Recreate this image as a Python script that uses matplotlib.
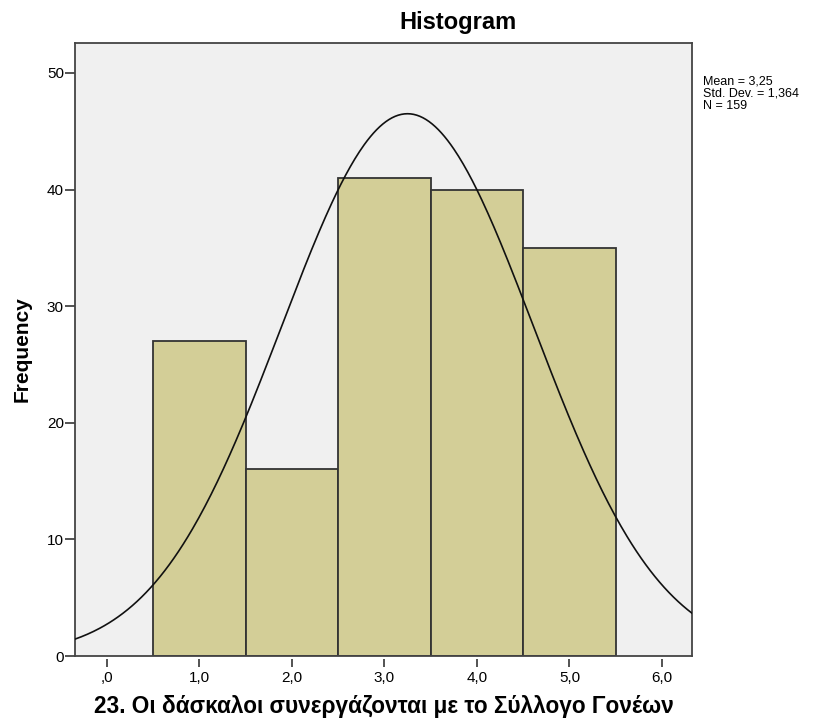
import numpy as np
import matplotlib
matplotlib.use("Agg")
import matplotlib.pyplot as plt

plt.rcParams['font.family'] = ['Liberation Sans', 'DejaVu Sans']

bin_centers = [1.0, 2.0, 3.0, 4.0, 5.0]
frequencies = [27, 16, 41, 40, 35]
mean_val = 3.25
std_val = 1.364
n_val = 159
xtick_vals = [0, 1, 2, 3, 4, 5, 6]
xtick_labels = [",0", "1,0", "2,0", "3,0", "4,0", "5,0", "6,0"]
ytick_vals = [0, 10, 20, 30, 40, 50]
title_text = "Histogram"
xlabel_text = "23. Οι δάσκαλοι συνεργάζονται με το Σύλλογο Γονέων"
ylabel_text = "Frequency"
stats_text = "Mean = 3,25\nStd. Dev. = 1,364\nN = 159"

W, H = 830, 723
fig = plt.figure(figsize=(W/100, H/100), dpi=100)
ax = fig.add_axes([75/W, 1-656/H, (692-75)/W, (656-43)/H])
ax.set_facecolor('#F0F0F0')

ax.bar(bin_centers, frequencies, width=1.0, color='#D3CE97', edgecolor='#333333', linewidth=1.3, zorder=2)

xs = np.linspace(-0.343, 6.324, 400)
ys = n_val * 1.0 / (std_val*np.sqrt(2*np.pi)) * np.exp(-0.5*((xs-mean_val)/std_val)**2)
ax.plot(xs, ys, color='#111111', linewidth=1.2, zorder=3)

ax.set_xlim(-0.343, 6.324)
ax.set_ylim(0, 52.57)

for s in ax.spines.values():
    s.set_color('#444444')
    s.set_linewidth(1.3)

ax.set_yticks(ytick_vals)
ax.set_yticklabels([str(v) for v in ytick_vals], fontsize=11)
ax.tick_params(axis='y', length=7, width=1.3, color='#444444', pad=1)
ax.set_xticks([])

sec = ax.secondary_xaxis(-3/613)
sec.set_xticks(xtick_vals)
sec.set_xticklabels(xtick_labels, fontsize=11)
sec.tick_params(axis='x', length=6, width=1.3, color='#444444', pad=3)
sec.spines['bottom'].set_visible(False)

fig.text(457.5/W, 1-23/H, title_text, ha='center', va='center', fontsize=17, fontweight='bold')
fig.text(383.5/W, 1-707/H, xlabel_text, ha='center', va='center', fontsize=16.3, fontweight='bold')
fig.text(22/W, 1-349/H, ylabel_text, ha='center', va='center', rotation=90, fontsize=15, fontweight='bold')
fig.text(703/W, 1-76/H, stats_text, ha='left', va='top', fontsize=9, linespacing=1.0)

fig.savefig('out.png', dpi=100)
